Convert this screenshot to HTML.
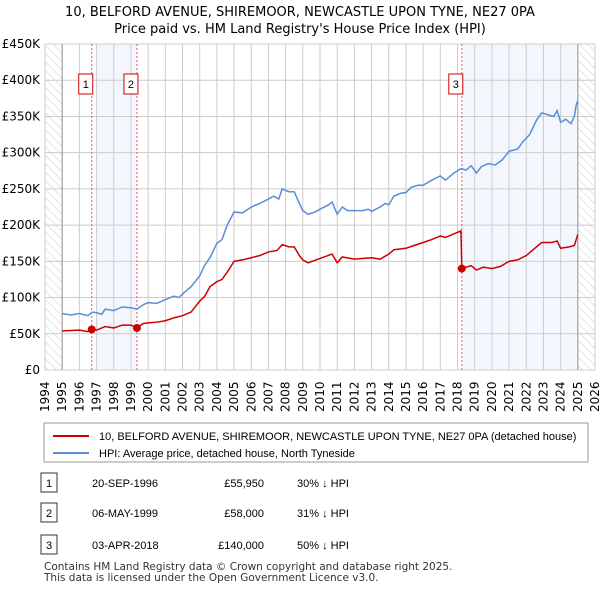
<!DOCTYPE html>
<html><head><meta charset="utf-8"><style>
body{margin:0;background:#fff;font-family:"Liberation Sans",sans-serif;}
svg text{font-family:"Liberation Sans",sans-serif;}
svg text.dv{font-family:"DejaVu Sans",sans-serif;}
</style></head><body>
<svg id="c" width="600" height="590" xmlns="http://www.w3.org/2000/svg">
<defs><pattern id="hatch" width="6" height="6" patternUnits="userSpaceOnUse" patternTransform="rotate(-45)"><line x1="0" y1="0" x2="0" y2="6" stroke="#ccc" stroke-width="1"/></pattern></defs>
<text class="dv" x="300" y="16" text-anchor="middle" font-size="13">10, BELFORD AVENUE, SHIREMOOR, NEWCASTLE UPON TYNE, NE27 0PA</text>
<text class="dv" x="300" y="33" text-anchor="middle" font-size="13">Price paid vs. HM Land Registry's House Price Index (HPI)</text>
<g id="plot"></g>
<g>
<rect x="44" y="423" width="544" height="39" fill="#fff" stroke="#999"/>
<line x1="53" y1="436" x2="89" y2="436" stroke="#cc0000" stroke-width="2"/>
<text x="99" y="440" font-size="11">10, BELFORD AVENUE, SHIREMOOR, NEWCASTLE UPON TYNE, NE27 0PA (detached house)</text>
<line x1="53" y1="453" x2="89" y2="453" stroke="#5b8dd6" stroke-width="2"/>
<text x="99" y="457" font-size="11">HPI: Average price, detached house, North Tyneside</text>
</g>
<g id="tbl" font-size="11"></g>
<text class="dv" x="44" y="570" font-size="10.5" fill="#333">Contains HM Land Registry data © Crown copyright and database right 2025.</text>
<text class="dv" x="44" y="581" font-size="10.5" fill="#333">This data is licensed under the Open Government Licence v3.0.</text>
</svg>
<script>
const hpiT=[1995,1995.5,1996,1996.5,1996.75,1997,1997.3,1997.5,1998,1998.5,1999,1999.35,1999.7,2000,2000.5,2001,2001.5,2001.8,2002,2002.5,2003,2003.3,2003.6,2004,2004.3,2004.6,2005,2005.5,2006,2006.5,2007,2007.3,2007.6,2007.8,2008.2,2008.5,2008.8,2009,2009.3,2009.7,2010,2010.5,2010.7,2011,2011.3,2011.6,2012,2012.5,2012.8,2013,2013.5,2013.8,2014,2014.3,2014.7,2015,2015.3,2015.7,2016,2016.5,2017,2017.3,2017.8,2018.2,2018.5,2018.8,2019.1,2019.4,2019.8,2020.2,2020.6,2021,2021.5,2021.8,2022.2,2022.6,2022.9,2023.3,2023.6,2023.8,2024,2024.3,2024.6,2024.8,2024.9,2025];
const hpiV=[78,76,78,75,80,79,77,84,82,87,86,84,90,93,92,97,102,100,105,115,130,145,155,175,180,200,218,217,225,230,236,240,236,250,246,246,230,220,215,218,222,228,232,215,225,220,220,220,222,219,225,230,228,240,244,245,252,255,255,262,268,262,272,278,276,282,272,281,285,283,290,302,305,315,325,345,355,352,350,358,342,346,340,350,365,372];
const priceT=[1995,1996,1996.5,1996.72,1997,1997.5,1998,1998.5,1999,1999.35,1999.7,2000,2000.5,2001,2001.5,2002,2002.5,2003,2003.3,2003.6,2004,2004.3,2004.6,2005,2005.5,2006,2006.5,2007,2007.5,2007.8,2008.2,2008.5,2008.8,2009,2009.3,2010,2010.7,2011,2011.3,2012,2013,2013.5,2014,2014.3,2015,2015.5,2016,2016.5,2017,2017.3,2017.8,2018.2,2018.25,2018.5,2018.8,2019.1,2019.5,2020,2020.5,2021,2021.5,2022,2022.6,2022.9,2023.5,2023.8,2024,2024.5,2024.8,2025];
const priceV=[54,55,53,56,55,60,58,62,62,58,64,65,66,68,72,75,80,95,102,115,122,125,135,150,152,155,158,163,165,173,170,170,158,152,148,154,160,148,156,153,155,153,160,166,168,172,176,180,185,183,188,192,140,142,144,138,142,140,143,150,152,158,170,176,176,178,168,170,172,187];
const saleT=[1996.72,1999.35,2018.25];
const saleV=[55950,58000,140000];
const saleLabels=["1","2","3"];
const saleDates=["20-SEP-1996","06-MAY-1999","03-APR-2018"];
const salePrices=["£55,950","£58,000","£140,000"];
const saleDiffs=["30% ↓ HPI","31% ↓ HPI","50% ↓ HPI"];
const yTicks=[0,50,100,150,200,250,300,350,400,450];
const yLabels=["£0","£50K","£100K","£150K","£200K","£250K","£300K","£350K","£400K","£450K"];
const xStart=1994,xEnd=2026;
const X=t=>45+(t-xStart)*550/(xEnd-xStart);
const Y=v=>370-v*326/450;
const NS="http://www.w3.org/2000/svg";
const g=document.getElementById('plot');
function mk(tag,at,par){const e=document.createElementNS(NS,tag);for(const k in at)e.setAttribute(k,at[k]);(par||g).appendChild(e);return e;}
let e;
e=mk('rect',{x:X(1994),y:Y(450),width:X(1995)-X(1994),height:Y(0)-Y(450),fill:'url(#hatch)'});


e=mk('rect',{x:X(2025),y:Y(450),width:X(2026)-X(2025),height:Y(0)-Y(450),fill:'url(#hatch)'});


e=mk('rect',{x:X(1997),y:Y(450),width:X(saleT[1])-X(1997),height:Y(0)-Y(450),fill:'#eef3fc',opacity:0.7});


e=mk('rect',{x:X(saleT[2]),y:Y(450),width:X(2025)-X(saleT[2]),height:Y(0)-Y(450),fill:'#eef3fc',opacity:0.7});


for(let yr=xStart;yr<=xEnd;yr++){
 e=mk('line',{x1:X(yr),x2:X(yr),y1:Y(450),y2:Y(0),stroke:'#ccc'});
 
 
 e=mk('text',{class:'dv',transform:`translate(${X(yr)+4},${Y(0)+42}) rotate(-90)`,'font-size':12});
 e.textContent=yr;
 
 
}
yTicks.forEach((v,i)=>{
 e=mk('line',{x1:X(xStart),x2:X(xEnd),y1:Y(v),y2:Y(v),stroke:'#ccc'});
 
 
 e=mk('text',{class:'dv',x:40,y:Y(v)+4,'text-anchor':'end','font-size':12});
 e.textContent=yLabels[i];
 
 
});
e=mk('line',{x1:X(1995),x2:X(1995),y1:Y(450),y2:Y(0),stroke:'#999'});


e=mk('line',{x1:X(2025),x2:X(2025),y1:Y(450),y2:Y(0),stroke:'#999'});


saleT.forEach((t,i)=>{
 e=mk('line',{x1:X(t),x2:X(t),y1:Y(450),y2:Y(0),stroke:'#e55','stroke-dasharray':'2,2'});
 
 
 e=mk('rect',{x:X(t)-13,y:74,width:14,height:20,fill:'#fff',stroke:'#c00'});
 
 
 e=mk('text',{x:X(t)-6,y:88,'text-anchor':'middle','font-size':11});
 e.textContent=saleLabels[i];
 
 
});
e=mk('polyline',{points:hpiT.map((t,i)=>X(t)+','+Y(hpiV[i])).join(' '),fill:'none',stroke:'#5b8dd6','stroke-width':1.5});


e=mk('polyline',{points:priceT.map((t,i)=>X(t)+','+Y(priceV[i])).join(' '),fill:'none',stroke:'#cc0000','stroke-width':1.5});


saleT.forEach((t,i)=>{
 e=mk('circle',{cx:X(t),cy:Y(saleV[i]/1000),r:4,fill:'#cc0000'});
 
 
});
const tb=document.getElementById('tbl');
const rowsY=[483,513,545];
rowsY.forEach((y,i)=>{
 e=mk('rect',{x:41,y:y-10,width:16,height:19,fill:'#fff',stroke:'#333'},tb);
 
 
 e=mk('text',{x:49,y:y+4,'text-anchor':'middle'},tb);e.textContent=saleLabels[i];
 
 
 e=mk('text',{x:92,y:y+4},tb);e.textContent=saleDates[i];
 
 
 e=mk('text',{x:264,y:y+4,'text-anchor':'end'},tb);e.textContent=salePrices[i];
 
 
 e=mk('text',{x:297,y:y+4},tb);e.textContent=saleDiffs[i];
 
 
});
</script>
</body></html>
